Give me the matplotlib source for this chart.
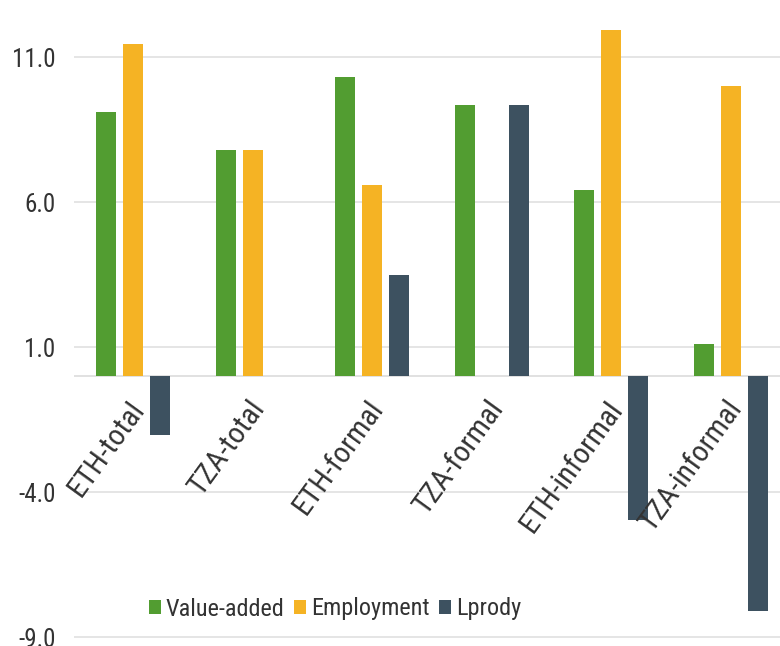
import numpy as np
import matplotlib
matplotlib.use("Agg")
import matplotlib.pyplot as plt

plt.rcParams['font.family'] = ['Roboto Condensed', 'Liberation Sans', 'DejaVu Sans']

# growth rates by country / sector
categories = ['ETH-total', 'TZA-total', 'ETH-formal', 'TZA-formal', 'ETH-informal', 'TZA-informal']
value_added = [9.1, 7.8, 10.3, 9.35, 6.4, 1.1]
employment = [11.45, 7.8, 6.6, 0.0, 11.95, 10.0]
lprody = [-2.05, 0.0, 3.5, 9.35, -4.97, -8.1]

series = [('Value-added', value_added, '#529D31'),
          ('Employment', employment, '#F5B324'),
          ('Lprody', lprody, '#3D5160')]

yticks = [11.0, 6.0, 1.0, -4.0, -9.0]

W, H = 780, 646
fig = plt.figure(figsize=(W / 100, H / 100), dpi=100)
ax = fig.add_axes([73.5 / W, 0, 717 / W, 1])

x = np.arange(len(categories))
step = 0.226
width = 0.167
for i, (name, vals, col) in enumerate(series):
    ax.bar(x + (i - 1) * step, vals, width, color=col, label=name, zorder=3)

ax.set_xlim(-0.5, len(categories) - 0.5)
ax.set_ylim(-9.31, 12.97)
ax.set_yticks(yticks)
ax.set_yticklabels([f'{t:.1f}' for t in yticks], fontsize=18, color='#333333')
ax.tick_params(axis='y', length=0, pad=13)
ax.set_xticks([])
ax.grid(axis='y', color='#e3e3e3', linewidth=1.3, zorder=0)
ax.axhline(0, color='#dedede', linewidth=1.3, zorder=2)
for s in ax.spines.values():
    s.set_visible(False)

# category names sit below the zero line, slanted
for xi, name in zip(x, categories):
    ax.text(xi + 0.05, -0.95, name, rotation=54, rotation_mode='anchor',
            ha='right', va='center', fontsize=21.5, color='#333333')

ax.legend(loc='center', bbox_to_anchor=(335 / 717 - 73.5 / 717, (646 - 609) / 646),
          ncol=3, frameon=False, fontsize=17.5, handlelength=0.5, handleheight=0.5,
          handletextpad=0.2, columnspacing=0.4, labelcolor='#333333')

fig.savefig('out.png', dpi=100)
